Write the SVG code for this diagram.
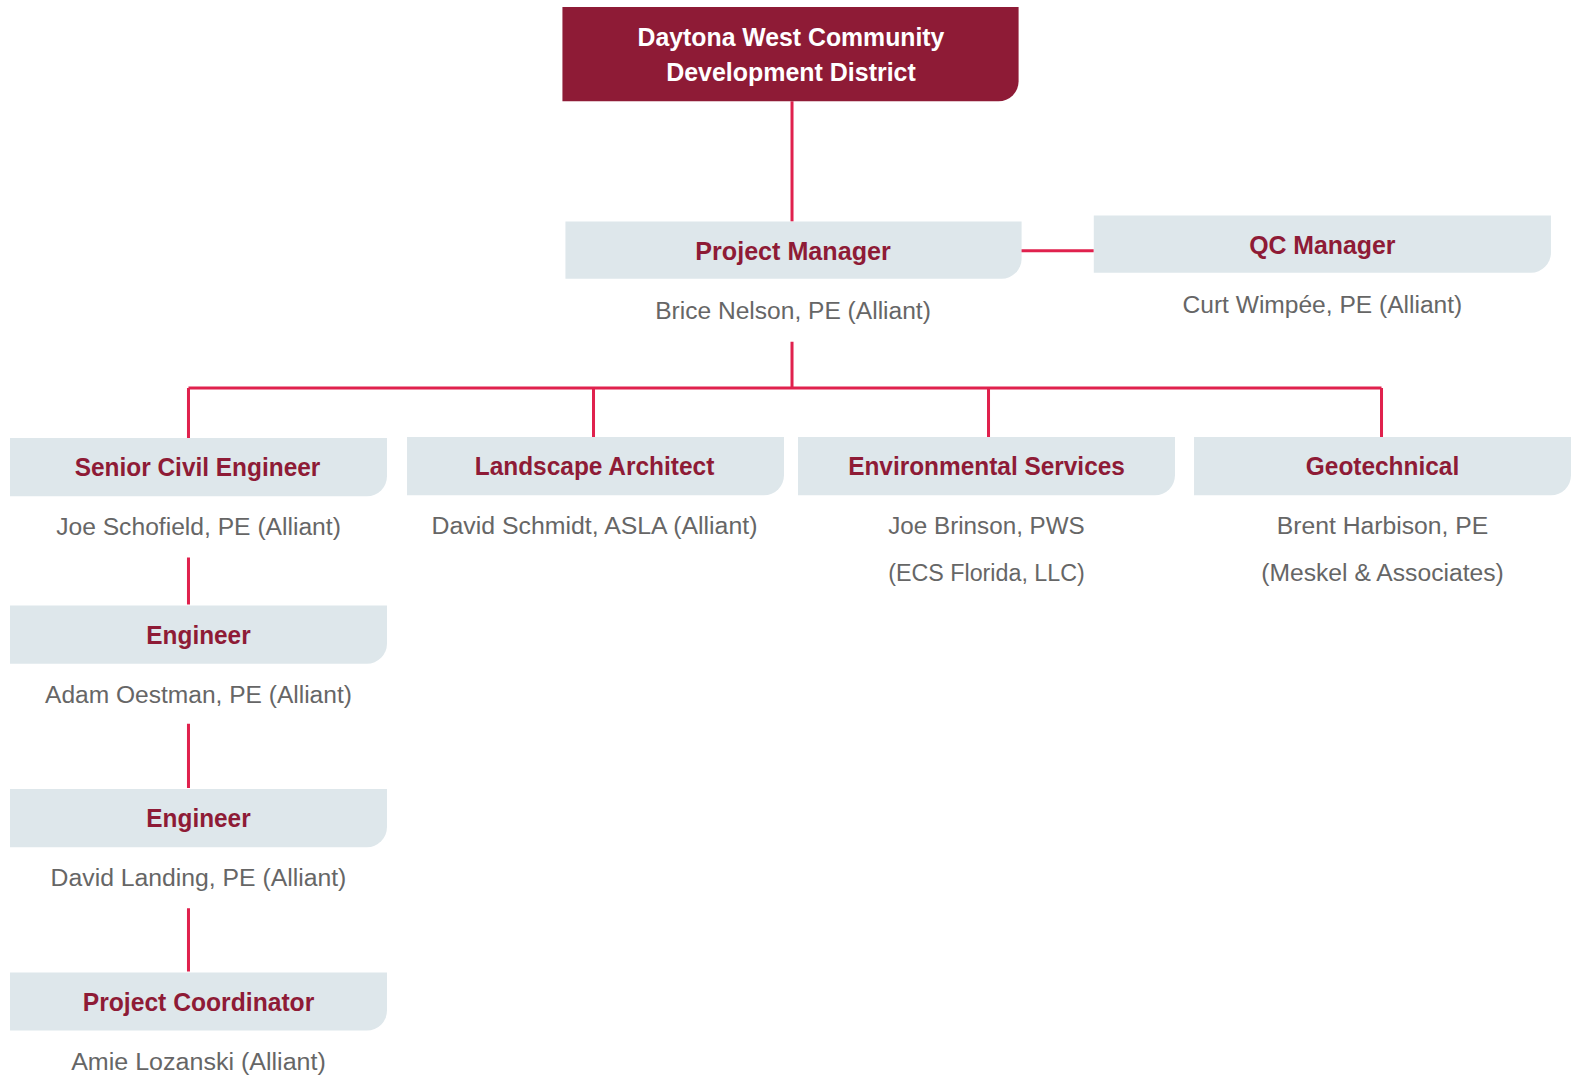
<svg xmlns="http://www.w3.org/2000/svg" width="1572" height="1078" viewBox="0 0 1572 1078">
<style>
.top{fill:#8E1B36}
.box{fill:#DEE7EB}
.tt{font-family:"Liberation Sans",Arial,sans-serif;font-weight:bold;font-size:26px;fill:#FFFFFF;text-anchor:middle}
.t{font-family:"Liberation Sans",Arial,sans-serif;font-weight:bold;font-size:25px;fill:#8E1B36;text-anchor:middle}
.n{font-family:"Liberation Sans",Arial,sans-serif;font-size:24px;fill:#666666;text-anchor:middle}
.c{stroke:#E0214D;stroke-width:3;fill:none}
</style>
<g transform="scale(1.00255)">
<g id="connectors">
<path class="c" d="M790 101V221"/>
<path class="c" d="M1018 250H1091"/>
<path class="c" d="M790 341V387M188 387H1378M188 387V437M592 387V436M986 387V436M1378 387V436"/>
<path class="c" d="M188 556V603M188 722V786M188 906V969"/>
</g>
<g id="n-district">
<path class="top" d="M561 7H1016V81A20 20 0 0 1 996 101H561Z"/>
<text class="tt" x="789" y="46" textLength="306" lengthAdjust="spacingAndGlyphs">Daytona West Community</text>
<text class="tt" x="789" y="81" textLength="249" lengthAdjust="spacingAndGlyphs">Development District</text>
</g>
<g id="n-pm">
<path class="box" d="M564 221H1019V258A20 20 0 0 1 999 278H564Z"/>
<text class="t" x="791" y="259" textLength="195" lengthAdjust="spacingAndGlyphs">Project Manager</text>
<text class="n" x="791" y="318" textLength="275" lengthAdjust="spacingAndGlyphs">Brice Nelson, PE (Alliant)</text>
</g>
<g id="n-qc">
<path class="box" d="M1091 215H1547V252A20 20 0 0 1 1527 272H1091Z"/>
<text class="t" x="1319" y="253" textLength="146" lengthAdjust="spacingAndGlyphs">QC Manager</text>
<text class="n" x="1319" y="312" textLength="279" lengthAdjust="spacingAndGlyphs">Curt Wimpée, PE (Alliant)</text>
</g>
<g id="n-sce">
<path class="box" d="M10 437H386V475A20 20 0 0 1 366 495H10Z"/>
<text class="t" x="197" y="475" textLength="245" lengthAdjust="spacingAndGlyphs">Senior Civil Engineer</text>
<text class="n" x="198" y="534" textLength="284" lengthAdjust="spacingAndGlyphs">Joe Schofield, PE (Alliant)</text>
</g>
<g id="n-la">
<path class="box" d="M406 436H782V474A20 20 0 0 1 762 494H406Z"/>
<text class="t" x="593" y="474" textLength="239" lengthAdjust="spacingAndGlyphs">Landscape Architect</text>
<text class="n" x="593" y="533" textLength="325" lengthAdjust="spacingAndGlyphs">David Schmidt, ASLA (Alliant)</text>
</g>
<g id="n-env">
<path class="box" d="M796 436H1172V474A20 20 0 0 1 1152 494H796Z"/>
<text class="t" x="984" y="474" textLength="276" lengthAdjust="spacingAndGlyphs">Environmental Services</text>
<text class="n" x="984" y="533" textLength="196" lengthAdjust="spacingAndGlyphs">Joe Brinson, PWS</text>
<text class="n" x="984" y="580" textLength="196" lengthAdjust="spacingAndGlyphs">(ECS Florida, LLC)</text>
</g>
<g id="n-geo">
<path class="box" d="M1191 436H1567V474A20 20 0 0 1 1547 494H1191Z"/>
<text class="t" x="1379" y="474" textLength="153" lengthAdjust="spacingAndGlyphs">Geotechnical</text>
<text class="n" x="1379" y="533" textLength="211" lengthAdjust="spacingAndGlyphs">Brent Harbison, PE</text>
<text class="n" x="1379" y="580" textLength="242" lengthAdjust="spacingAndGlyphs">(Meskel &amp; Associates)</text>
</g>
<g id="n-eng1">
<path class="box" d="M10 604H386V642A20 20 0 0 1 366 662H10Z"/>
<text class="t" x="198" y="642" textLength="104" lengthAdjust="spacingAndGlyphs">Engineer</text>
<text class="n" x="198" y="701" textLength="306" lengthAdjust="spacingAndGlyphs">Adam Oestman, PE (Alliant)</text>
</g>
<g id="n-eng2">
<path class="box" d="M10 787H386V825A20 20 0 0 1 366 845H10Z"/>
<text class="t" x="198" y="825" textLength="104" lengthAdjust="spacingAndGlyphs">Engineer</text>
<text class="n" x="198" y="884" textLength="295" lengthAdjust="spacingAndGlyphs">David Landing, PE (Alliant)</text>
</g>
<g id="n-pc">
<path class="box" d="M10 970H386V1008A20 20 0 0 1 366 1028H10Z"/>
<text class="t" x="198" y="1008" textLength="231" lengthAdjust="spacingAndGlyphs">Project Coordinator</text>
<text class="n" x="198" y="1067" textLength="254" lengthAdjust="spacingAndGlyphs">Amie Lozanski (Alliant)</text>
</g>
</g>
</svg>
